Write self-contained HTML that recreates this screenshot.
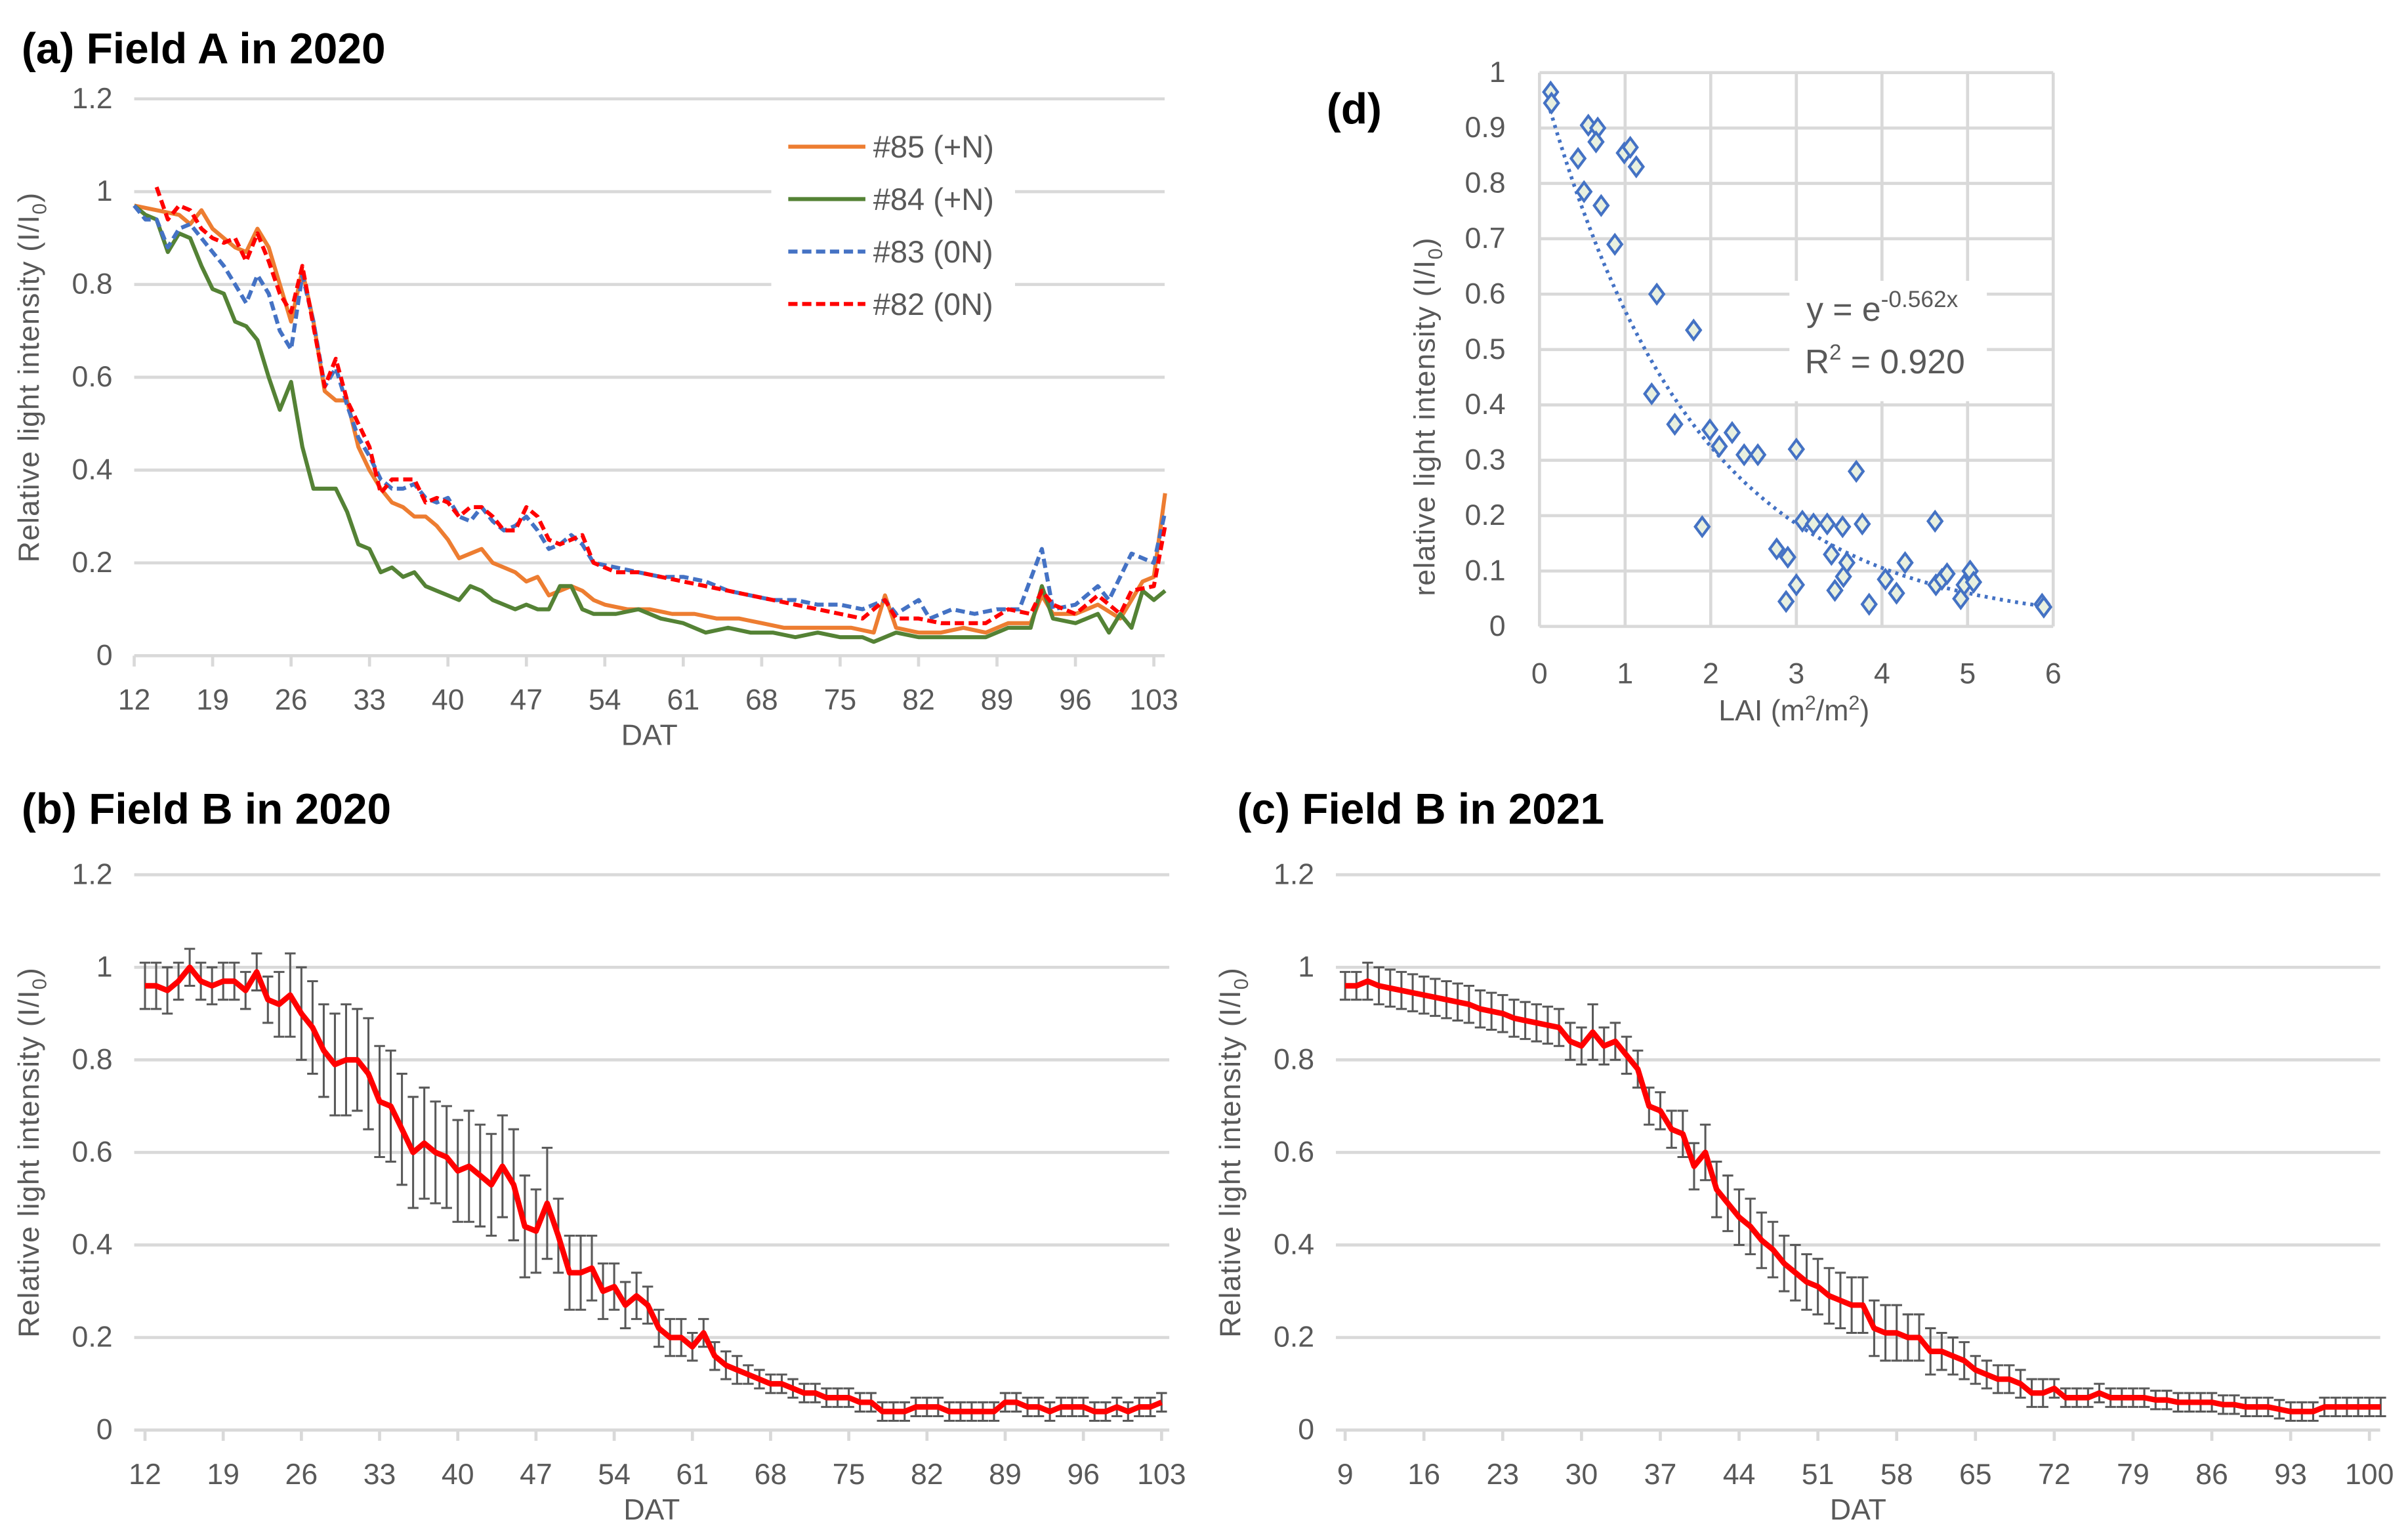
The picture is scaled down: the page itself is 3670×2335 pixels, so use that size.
<!DOCTYPE html>
<html><head><meta charset="utf-8"><style>
html,body{margin:0;padding:0;background:#fff}
svg{display:block}
text{font-family:"Liberation Sans Narrow","Liberation Sans",sans-serif;fill:#595959}
.t{font-family:"Liberation Sans",sans-serif;font-weight:bold;fill:#000}
</style></head><body>
<svg id="s" width="3670" height="2335" viewBox="0 0 1561 993" xmlns="http://www.w3.org/2000/svg"></svg>
<script>
// ---- Panel (a) data ----
const aDays85=[12,14,16,17,18,19,20,21,22,23,24,25,26,27,28,29,30,31,32,33,34,35,36,37,38,39,40,41,42,43,44,45,46,47,48,49,50,51,52,53,54,56,58,60,62,64,66,68,70,72,74,76,78,79,80,82,84,86,88,90,92,93,94,96,98,100,101,102,103,104];
const aVal85=[0.97,0.96,0.95,0.93,0.96,0.92,0.9,0.88,0.87,0.92,0.88,0.8,0.72,0.83,0.72,0.57,0.55,0.55,0.45,0.4,0.36,0.33,0.32,0.3,0.3,0.28,0.25,0.21,0.22,0.23,0.2,0.19,0.18,0.16,0.17,0.13,0.14,0.15,0.14,0.12,0.11,0.1,0.1,0.09,0.09,0.08,0.08,0.07,0.06,0.06,0.06,0.06,0.05,0.13,0.06,0.05,0.05,0.06,0.05,0.07,0.07,0.13,0.09,0.09,0.11,0.08,0.12,0.16,0.17,0.35];
const aDays84=[12,13,14,15,16,17,18,19,20,21,22,23,24,25,26,27,28,29,30,31,32,33,34,35,36,37,38,39,40,41,42,43,44,45,46,47,48,49,50,51,52,53,55,57,59,61,63,65,67,69,71,73,75,77,78,80,82,84,86,88,90,92,93,94,96,98,99,100,101,102,103,104];
const aVal84=[0.97,0.95,0.94,0.87,0.91,0.9,0.84,0.79,0.78,0.72,0.71,0.68,0.6,0.53,0.59,0.45,0.36,0.36,0.36,0.31,0.24,0.23,0.18,0.19,0.17,0.18,0.15,0.14,0.13,0.12,0.15,0.14,0.12,0.11,0.1,0.11,0.1,0.1,0.15,0.15,0.1,0.09,0.09,0.1,0.08,0.07,0.05,0.06,0.05,0.05,0.04,0.05,0.04,0.04,0.03,0.05,0.04,0.04,0.04,0.04,0.06,0.06,0.15,0.08,0.07,0.09,0.05,0.09,0.06,0.14,0.12,0.14];
const aDays83=[12,13,14,15,16,17,18,19,20,21,22,23,24,25,26,27,28,29,30,31,32,33,34,35,36,37,38,39,40,41,42,43,44,45,46,47,48,49,50,51,52,53,55,57,59,61,63,65,67,69,71,73,75,77,79,80,82,83,85,87,89,91,93,94,96,98,99,101,103,104];
const aVal83=[0.97,0.94,0.94,0.88,0.92,0.93,0.9,0.87,0.84,0.8,0.76,0.82,0.78,0.7,0.66,0.82,0.72,0.58,0.62,0.54,0.47,0.43,0.38,0.36,0.36,0.37,0.34,0.33,0.34,0.3,0.29,0.32,0.29,0.27,0.28,0.3,0.27,0.23,0.24,0.26,0.24,0.2,0.19,0.18,0.17,0.17,0.16,0.14,0.13,0.12,0.12,0.11,0.11,0.1,0.12,0.09,0.12,0.08,0.1,0.09,0.1,0.1,0.23,0.1,0.11,0.15,0.12,0.22,0.2,0.31];
const aDays82=[14,15,16,17,18,19,20,21,22,23,24,25,26,27,28,29,30,31,32,33,34,35,36,37,38,39,40,41,42,43,44,45,46,47,48,49,50,51,52,53,55,57,59,61,63,65,67,69,71,73,75,77,78,79,80,82,84,86,88,90,92,93,94,96,98,100,101,103,104];
const aVal82=[1.01,0.94,0.97,0.96,0.92,0.9,0.89,0.9,0.85,0.91,0.85,0.78,0.74,0.84,0.71,0.58,0.64,0.55,0.5,0.45,0.35,0.38,0.38,0.38,0.33,0.34,0.33,0.3,0.32,0.32,0.3,0.27,0.27,0.32,0.3,0.25,0.24,0.25,0.26,0.2,0.18,0.18,0.17,0.16,0.15,0.14,0.13,0.12,0.11,0.1,0.09,0.08,0.1,0.12,0.08,0.08,0.07,0.07,0.07,0.1,0.09,0.14,0.11,0.09,0.13,0.09,0.14,0.15,0.28];
const xTicksA=[12,19,26,33,40,47,54,61,68,75,82,89,96,103];
const yTicks=[0,0.2,0.4,0.6,0.8,1,1.2];
// ---- Panel (b) data ----
const bDays=[12,13,14,15,16,17,18,19,20,21,22,23,24,25,26,27,28,29,30,31,32,33,34,35,36,37,38,39,40,41,42,43,44,45,46,47,48,49,50,51,52,53,54,55,56,57,58,59,60,61,62,63,64,65,66,67,68,69,70,71,72,73,74,75,76,77,78,79,80,81,82,83,84,85,86,87,88,89,90,91,92,93,94,95,96,97,98,99,100,101,102,103];
const bMean=[0.96,0.96,0.95,0.97,1.0,0.97,0.96,0.97,0.97,0.95,0.99,0.93,0.92,0.94,0.9,0.87,0.82,0.79,0.8,0.8,0.77,0.71,0.7,0.65,0.6,0.62,0.6,0.59,0.56,0.57,0.55,0.53,0.57,0.53,0.44,0.43,0.49,0.42,0.34,0.34,0.35,0.3,0.31,0.27,0.29,0.27,0.22,0.2,0.2,0.18,0.21,0.16,0.14,0.13,0.12,0.11,0.1,0.1,0.09,0.08,0.08,0.07,0.07,0.07,0.06,0.06,0.04,0.04,0.04,0.05,0.05,0.05,0.04,0.04,0.04,0.04,0.04,0.06,0.06,0.05,0.05,0.04,0.05,0.05,0.05,0.04,0.04,0.05,0.04,0.05,0.05,0.06];
const bErr=[0.05,0.05,0.05,0.04,0.04,0.04,0.04,0.04,0.04,0.04,0.04,0.05,0.07,0.09,0.1,0.1,0.1,0.11,0.12,0.11,0.12,0.12,0.12,0.12,0.12,0.12,0.11,0.11,0.11,0.12,0.11,0.11,0.11,0.12,0.11,0.09,0.12,0.08,0.08,0.08,0.07,0.06,0.05,0.05,0.05,0.04,0.04,0.04,0.04,0.03,0.03,0.03,0.03,0.03,0.02,0.02,0.02,0.02,0.02,0.02,0.02,0.02,0.02,0.02,0.02,0.02,0.02,0.02,0.02,0.02,0.02,0.02,0.02,0.02,0.02,0.02,0.02,0.02,0.02,0.02,0.02,0.02,0.02,0.02,0.02,0.02,0.02,0.02,0.02,0.02,0.02,0.02];
// ---- Panel (c) data ----
const cDays=[9,10,11,12,13,14,15,16,17,18,19,20,21,22,23,24,25,26,27,28,29,30,31,32,33,34,35,36,37,38,39,40,41,42,43,44,45,46,47,48,49,50,51,52,53,54,55,56,57,58,59,60,61,62,63,64,65,66,67,68,69,70,71,72,73,74,75,76,77,78,79,80,81,82,83,84,85,86,87,88,89,90,91,92,93,94,95,96,97,98,99,100,101];
const cMean=[0.96,0.96,0.97,0.96,0.955,0.95,0.945,0.94,0.935,0.93,0.925,0.92,0.91,0.905,0.9,0.89,0.885,0.88,0.875,0.87,0.84,0.83,0.86,0.83,0.84,0.81,0.78,0.7,0.69,0.65,0.64,0.57,0.6,0.52,0.49,0.46,0.44,0.41,0.39,0.36,0.34,0.32,0.31,0.29,0.28,0.27,0.27,0.22,0.21,0.21,0.2,0.2,0.17,0.17,0.16,0.15,0.13,0.12,0.11,0.11,0.1,0.08,0.08,0.09,0.07,0.07,0.07,0.08,0.07,0.07,0.07,0.07,0.065,0.065,0.06,0.06,0.06,0.06,0.055,0.055,0.05,0.05,0.05,0.045,0.04,0.04,0.04,0.05,0.05,0.05,0.05,0.05,0.05];
const cErr=[0.03,0.03,0.04,0.04,0.04,0.04,0.04,0.04,0.04,0.04,0.04,0.04,0.04,0.04,0.04,0.04,0.04,0.04,0.04,0.04,0.04,0.04,0.06,0.04,0.04,0.04,0.04,0.04,0.04,0.04,0.05,0.05,0.06,0.06,0.06,0.06,0.06,0.06,0.06,0.06,0.06,0.06,0.06,0.06,0.06,0.06,0.06,0.06,0.06,0.06,0.05,0.05,0.05,0.04,0.04,0.04,0.03,0.03,0.03,0.03,0.03,0.03,0.03,0.02,0.02,0.02,0.02,0.02,0.02,0.02,0.02,0.02,0.02,0.02,0.02,0.02,0.02,0.02,0.02,0.02,0.02,0.02,0.02,0.02,0.02,0.02,0.02,0.02,0.02,0.02,0.02,0.02,0.02];
const xTicksB=[12,19,26,33,40,47,54,61,68,75,82,89,96,103];
const xTicksC=[9,16,23,30,37,44,51,58,65,72,79,86,93,100];
// ---- Panel (d) data ----
const dLAI=[0.13,0.14,0.45,0.57,0.68,0.66,0.52,0.72,0.88,0.99,1.06,1.13,1.37,1.8,1.31,1.58,1.9,1.99,2.1,2.25,2.39,2.55,3.0,2.77,2.9,2.88,3.0,3.07,3.2,3.36,3.41,3.45,3.55,3.54,3.59,3.7,3.77,3.85,4.04,4.17,4.27,4.62,4.63,4.7,4.76,4.92,4.96,5.03,5.07,5.87,5.89];
const dRLI=[0.965,0.945,0.845,0.905,0.9,0.875,0.785,0.76,0.69,0.855,0.865,0.83,0.6,0.535,0.42,0.365,0.18,0.355,0.325,0.35,0.31,0.31,0.32,0.14,0.125,0.045,0.075,0.19,0.185,0.185,0.13,0.065,0.09,0.18,0.115,0.28,0.185,0.04,0.085,0.06,0.115,0.19,0.075,0.085,0.095,0.05,0.075,0.1,0.08,0.04,0.035];
const dXTicks=[0,1,2,3,4,5,6];
const dYTicks=[0,0.1,0.2,0.3,0.4,0.5,0.6,0.7,0.8,0.9,1];
const fitK=0.562;

const S=document.getElementById('s');
const NS='http://www.w3.org/2000/svg';
function mk(tag,attrs,parent){const e=document.createElementNS(NS,tag);for(const k in attrs)e.setAttribute(k,attrs[k]);(parent||S).appendChild(e);return e;}
function txt(x,y,s,size,anchor,parent,cls){const e=mk('text',{x:x,y:y,'font-size':size,'text-anchor':anchor||'middle'},parent);if(cls)e.setAttribute('class',cls);e.textContent=s;return e;}

function panel(name,o){
  const g=mk('g',{});
  
  
  const X=v=>o.x0+(v-o.xmin)/(o.xmax-o.xmin)*(o.x1-o.x0);
  const Y=v=>o.y0-(v/1.2)*(o.y0-o.y1);
  yTicks.forEach(t=>{
    if(t>0){const l=mk('line',{x1:o.gx0,x2:o.gx1,y1:Y(t),y2:Y(t),stroke:'#d9d9d9','stroke-width':2},g);
    }
    const lb=txt(o.gx0-14,Y(t)+6,String(t),19,'end',g);
    
  });
  const ax=mk('line',{x1:o.gx0,x2:o.gx1,y1:o.y0,y2:o.y0,stroke:'#d9d9d9','stroke-width':2},g);
  
  o.ticks.forEach(t=>{
    mk('line',{x1:X(t),x2:X(t),y1:o.y0,y2:o.y0+7,stroke:'#d9d9d9','stroke-width':2},g);
    const lb=txt(X(t),o.y0+35,String(t),19,'middle',g);
    
  });
  const xt=txt((o.gx0+o.gx1)/2,o.y0+58,'DAT',19,'middle',g);
  
  const yt=mk('text',{x:0,y:0,'font-size':19,'text-anchor':'middle','font-family':'Liberation Sans, sans-serif',transform:`translate(${o.gx0-62},${Y(0.6)}) rotate(-90)`,'letter-spacing':'0.5'},g);
  
  yt.innerHTML='Relative light intensity (I/I<tspan font-size="13" dy="5">0</tspan><tspan dy="-5">)</tspan>';
  const ti=txt(o.tx,o.ty,o.title,28,'start',g,'t');
  
  return {g,X,Y};
}
function line(p,days,vals,color,dash,w,name){
  const d=days.map((t,i)=>(i?'L':'M')+p.X(t).toFixed(1)+','+p.Y(vals[i]).toFixed(1)).join('');
  const e=mk('path',{d:d,fill:'none',stroke:color,'stroke-width':w,'stroke-linejoin':'round'},p.g);
  if(dash)e.setAttribute('stroke-dasharray',dash);
  
  
}
function errbars(p,days,vals,err,name){
  const g=mk('g',{stroke:'#595959','stroke-width':1.3},p.g);
  
  
  days.forEach((t,i)=>{
    const x=p.X(t),a=p.Y(vals[i]+err[i]),b=p.Y(vals[i]-err[i]);
    mk('line',{x1:x,x2:x,y1:a,y2:b},g);
    mk('line',{x1:x-3.5,x2:x+3.5,y1:a,y2:a},g);
    mk('line',{x1:x-3.5,x2:x+3.5,y1:b,y2:b},g);
  });
}

// Panel a
const pa=panel('panel-a-field-a-2020',{x0:87,x1:748,xmin:12,xmax:103,y0:425,y1:64,gx0:87,gx1:755,ticks:xTicksA,title:'(a) Field A in 2020',tx:14,ty:41});
line(pa,aDays85,aVal85,'#ed7d31',null,2.6,'series-85');
line(pa,aDays84,aVal84,'#548235',null,2.6,'series-84');
line(pa,aDays83,aVal83,'#4472c4','6,3',2.6,'series-83');
line(pa,aDays82,aVal82,'#ff0000','6,3',2.6,'series-82');
// legend
const lg=mk('g',{},pa.g);


mk('rect',{x:500,y:78,width:158,height:135,fill:'#fff'},lg);
[['#85 (+N)','#ed7d31',null],['#84 (+N)','#548235',null],['#83 (0N)','#4472c4','6,3'],['#82 (0N)','#ff0000','6,3']].forEach((e,i)=>{
  const y=95+i*34;
  const l=mk('line',{x1:511,x2:561,y1:y,y2:y,stroke:e[1],'stroke-width':2.6},lg);
  if(e[2])l.setAttribute('stroke-dasharray',e[2]);
  const t=txt(566,y+7,e[0],20,'start',lg);
  
});

// Panel b
const pb=panel('panel-b-field-b-2020',{x0:94,x1:753,xmin:12,xmax:103,y0:927,y1:567,gx0:87,gx1:758,ticks:xTicksB,title:'(b) Field B in 2020',tx:14,ty:534});
errbars(pb,bDays,bMean,bErr,'error-bars-b');
line(pb,bDays,bMean,'#ff0000',null,3.6,'mean-line-b');

// Panel c
const pc=panel('panel-c-field-b-2021',{x0:872,x1:1536,xmin:9,xmax:100,y0:927,y1:567,gx0:866,gx1:1543,ticks:xTicksC,title:'(c) Field B in 2021',tx:802,ty:534});
errbars(pc,cDays,cMean,cErr,'error-bars-c');
line(pc,cDays,cMean,'#ff0000',null,3.6,'mean-line-c');

// Panel d
(function(){
  const g=mk('g',{});
  
  
  const x0=998,x1=1331,y0=406,y1=47;
  const X=v=>x0+v/6*(x1-x0), Y=v=>y0-v*(y0-y1);
  dYTicks.forEach(t=>{
    mk('line',{x1:x0,x2:x1,y1:Y(t),y2:Y(t),stroke:'#d9d9d9','stroke-width':2},g);
    const l=txt(x0-22,Y(t)+6,String(t),19,'end',g);
    
  });
  dXTicks.forEach(t=>{
    mk('line',{x1:X(t),x2:X(t),y1:y0,y2:y1,stroke:'#d9d9d9','stroke-width':2},g);
    const l=txt(X(t),y0+37,String(t),19,'middle',g);
    
  });
  mk('rect',{x:1160,y:182,width:128,height:78,fill:'#fff'},g);
  let d='';for(let i=0;i<=60;i++){const v=0.1+i*(5.8/60);d+=(i?'L':'M')+X(v).toFixed(1)+','+Y(Math.exp(-fitK*v)).toFixed(1);}
  const fit=mk('path',{d:d,fill:'none',stroke:'#4472c4','stroke-width':2.4,'stroke-dasharray':'2,3'},g);
  
  dLAI.forEach((v,i)=>{
    const cx=X(v),cy=Y(dRLI[i]);
    const p=mk('polygon',{points:`${cx},${cy-6} ${cx+4.5},${cy} ${cx},${cy+6} ${cx-4.5},${cy}`,fill:'#e8f0e0',stroke:'#4472c4','stroke-width':1.8},g);
    
  });
  const eq=mk('text',{x:1171,y:208,'font-size':22,'text-anchor':'start'},g);
  
  eq.innerHTML='y = e<tspan font-size="15" dy="-9">-0.562x</tspan>';
  const r2=mk('text',{x:1170,y:242,'font-size':22,'text-anchor':'start'},g);
  
  r2.innerHTML='R<tspan font-size="14" dy="-9">2</tspan><tspan dy="9"> = 0.920</tspan>';
  const xt=mk('text',{x:1163,y:467,'font-size':19,'text-anchor':'middle'},g);
  
  xt.innerHTML='LAI (m<tspan font-size="13" dy="-7">2</tspan><tspan dy="7">/m</tspan><tspan font-size="13" dy="-7">2</tspan><tspan dy="7">)</tspan>';
  const yt=mk('text',{x:0,y:0,'font-size':19,'text-anchor':'middle','font-family':'Liberation Sans, sans-serif',transform:'translate(930,270) rotate(-90)','letter-spacing':'0.5'},g);
  
  yt.innerHTML='relative light intensity (I/I<tspan font-size="13" dy="5">0</tspan><tspan dy="-5">)</tspan>';
  const ti=txt(860,80,'(d)',28,'start',g,'t');
  
})();
</script>
</body></html>
